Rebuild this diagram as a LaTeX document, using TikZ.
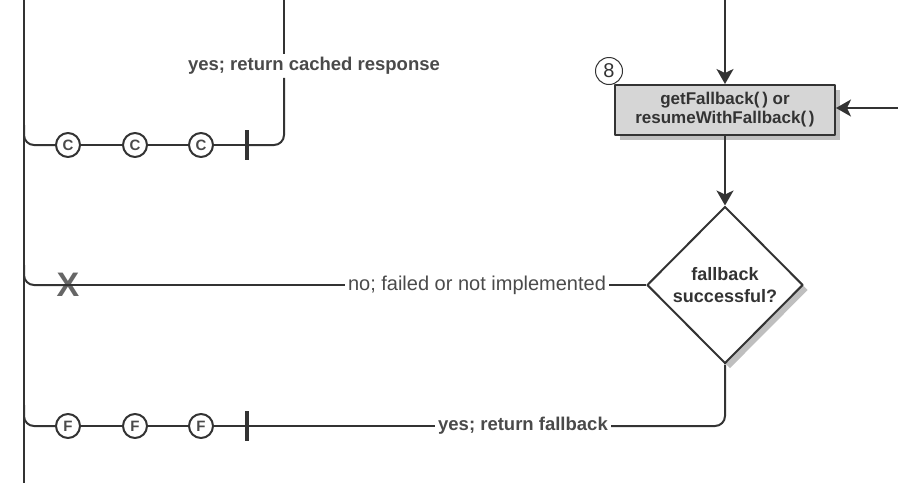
\documentclass[tikz,border=0pt]{standalone}
\usepackage{fontspec}
\setmainfont{Liberation Sans}
\usetikzlibrary{arrows.meta,shapes.geometric,shadows,calc}
\definecolor{ink}{HTML}{333333}
\definecolor{txt}{HTML}{4A4A4A}
\definecolor{boxfill}{HTML}{D6D6D6}
\begin{document}
\begin{tikzpicture}[x=1pt,y=-1pt,line join=round,
  conn/.style={draw=ink,line width=2pt},
  arr/.style={conn,-{Stealth[width=17pt,length=15pt,inset=4pt]}},
  coin/.style={circle,draw=ink,line width=2pt,fill=white,minimum size=24pt,inner sep=0pt,
    text=txt,font=\fontsize{15}{15}\selectfont\bfseries},
  tickbar/.style={rectangle,fill=ink,minimum width=4pt,minimum height=30pt,inner sep=0pt},
  lbl/.style={text=txt,inner sep=3pt,font=\fontsize{18.5}{20}\selectfont\bfseries},
  lblr/.style={text=txt,inner sep=3pt,font=\fontsize{20}{22}\selectfont},
  shade/.style={drop shadow={shadow xshift=5pt,shadow yshift=-5pt,fill=gray!50,opacity=1}}]
\useasboundingbox (0,0) rectangle (898,483);

% coordinates for free ends
\coordinate (Ltop) at (24,0);
\coordinate (Lbot) at (24,483);
\coordinate (Vtop) at (284,0);
\coordinate (Atop) at (725,0);
\coordinate (Aright) at (898,108);

% main nodes
\node[rectangle,draw=ink,line width=2pt,fill=boxfill,minimum width=220pt,minimum height=50pt,
  inner sep=0pt,align=center,text=ink,font=\fontsize{17}{19}\selectfont\bfseries,shade]
  (fb) at (725,110) {getFallback(\,) or\\resumeWithFallback(\,)};
\node[circle,draw=ink,line width=1pt,minimum size=27pt,inner sep=0pt,text=ink,
  font=\fontsize{20}{20}\selectfont] (n8) at (609,71) {8};
\node[diamond,aspect=1,draw=ink,line width=2pt,fill=white,minimum width=156pt,minimum height=157pt,
  inner sep=0pt,align=center,text=ink,font=\fontsize{18}{22}\selectfont\bfseries,shade]
  (dia) at (725,285) {fallback\\successful?};

% left trunk
\draw[conn] (Ltop) -- (Lbot);

% cached branch
\node[lbl] (l1) at (314,66) {yes; return cached response};
\node[coin] (c1) at (68,145) {C};
\node[coin] (c2) at (135,145) {C};
\node[coin] (c3) at (201,145) {C};
\node[tickbar] (t1) at (247,145) {};
\draw[conn] (Vtop) -- (Vtop |- l1.north);
\draw[conn,rounded corners=10pt] (Vtop |- l1.south) |- (t1.center);
\draw[conn] (t1.center) -- (c3) (c3) -- (c2) (c2) -- (c1);
\draw[conn,rounded corners=10pt] (c1.west) -| ($(Ltop)+(0,125)$);

% failure branch
\node[text=gray!80!black,inner sep=0pt,font=\fontsize{34}{34}\selectfont\bfseries] (xm) at (68,285) {X};
\node[lblr] (l2) at (477,285) {no; failed or not implemented};
\draw[conn,rounded corners=10pt] (xm.center) -| ($(Ltop)+(0,265)$);
\draw[conn] (xm.center) -- (l2.west);
\draw[conn] (l2.east) -- (dia.west);

% fallback branch
\node[lbl] (l3) at (523,426) {yes; return fallback};
\node[coin] (f1) at (68,426) {F};
\node[coin] (f2) at (135,426) {F};
\node[coin] (f3) at (201,426) {F};
\node[tickbar] (t2) at (247,426) {};
\draw[conn] (f1) -- (f2) (f2) -- (f3) (f3) -- (t2.center) -- (l3.west);
\draw[conn,rounded corners=10pt] (l3.east) -| (dia.south);
\draw[conn,rounded corners=10pt] (f1.west) -| ($(Ltop)+(0,405)$);

% arrows
\draw[arr] (Atop) -- (fb.north);
\draw[arr] (Aright) -- (Aright -| fb.east);
\draw[arr] (fb.south) -- (dia.north);
\end{tikzpicture}
\end{document}
